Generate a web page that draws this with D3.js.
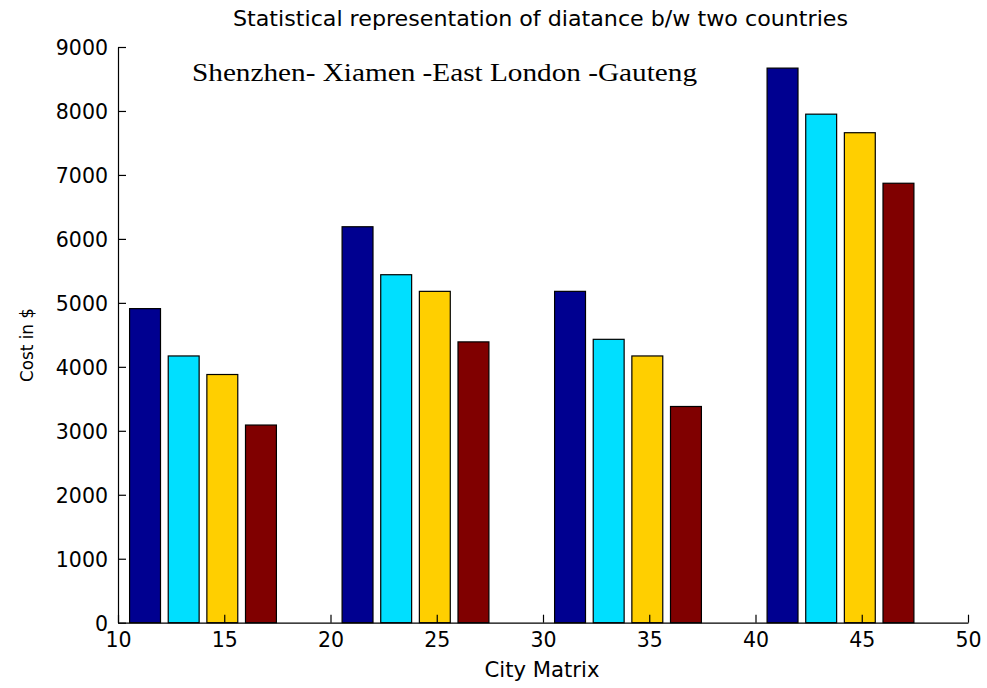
<!DOCTYPE html>
<html>
<head>
<meta charset="utf-8">
<script src="https://cdn.jsdelivr.net/npm/d3@7/dist/d3.min.js"></script>
<style>
  html, body { margin: 0; padding: 0; background: #fff; }
  svg { display: block; }
  text { fill: #000; }
</style>
</head>
<body>
<svg id="chart" width="987" height="688"></svg>
<script>
// ---- data ----
const groupCenters = [14, 24, 34, 44];
const seriesNames = ["Shenzhen", "Xiamen", "East London", "Gauteng"];
const shenzhen   = [4910, 6190, 5180, 8670];
const xiamen     = [4170, 5440, 4430, 7950];
const eastLondon = [3880, 5180, 4170, 7660];
const gauteng    = [3090, 4390, 3380, 6870];
const xTicks = [10, 15, 20, 25, 30, 35, 40, 45, 50];
const yTicks = [0, 1000, 2000, 3000, 4000, 5000, 6000, 7000, 8000, 9000];
const colors = ["#000090", "#00DFFF", "#FFCF00", "#800000"];

const series = [shenzhen, xiamen, eastLondon, gauteng];

const svg = d3.select("#chart");
const x = d3.scaleLinear().domain([10, 50]).range([118, 968]);
const y = d3.scaleLinear().domain([0, 9000]).range([622.7, 47]);

// MATLAB grouped bar geometry
const groupSpacing = 10;
const nS = series.length;
const groupWidth = Math.min(0.8, nS / (nS + 1.5)) * groupSpacing;
const step = groupWidth / nS;
const barW = 0.8 * step;

series.forEach((vals, si) => {
  const off = (si - (nS - 1) / 2) * step;
  svg.append("g").selectAll("rect").data(vals).join("rect")
    .attr("x", (d, i) => x(groupCenters[i] + off - barW / 2))
    .attr("width", (d, i) => x(groupCenters[i] + off + barW / 2) - x(groupCenters[i] + off - barW / 2))
    .attr("y", d => y(d))
    .attr("height", d => y(0) - y(d))
    .attr("fill", colors[si])
    .attr("stroke", "#000")
    .attr("stroke-width", 1.2);
});

const fontAxis = "'DejaVu Sans', sans-serif";

// axes
const xAxis = d3.axisBottom(x).tickValues(xTicks).tickFormat(d3.format("d"))
  .tickSizeInner(-8).tickSizeOuter(0).tickPadding(10);
const gx = svg.append("g").attr("transform", `translate(0,${y(0)})`).call(xAxis);
const yAxis = d3.axisLeft(y).tickValues(yTicks).tickFormat(d3.format("d"))
  .tickSizeInner(-8).tickSizeOuter(0).tickPadding(10);
const gy = svg.append("g").attr("transform", `translate(${x(10)},0)`).call(yAxis);
[gx, gy].forEach(g => {
  g.selectAll("path, line").attr("stroke", "#000").attr("stroke-width", 1.2);
  g.selectAll("text").attr("font-family", fontAxis).attr("font-size", 20.5).attr("fill", "#000");
});
gy.selectAll("text").attr("dy", "0.36em");

// title
svg.append("text")
  .attr("x", 540.5).attr("y", 26)
  .attr("text-anchor", "middle")
  .attr("font-family", fontAxis).attr("font-size", 20.5)
  .attr("textLength", 615).attr("lengthAdjust", "spacingAndGlyphs")
  .text("Statistical representation of diatance b/w two countries");

// annotation
svg.append("text")
  .attr("x", 192).attr("y", 81)
  .attr("font-family", "'Liberation Serif', 'Times New Roman', serif").attr("font-size", 25)
  .attr("textLength", 505).attr("lengthAdjust", "spacingAndGlyphs")
  .text("Shenzhen- Xiamen -East London -Gauteng");

// axis labels
svg.append("text")
  .attr("x", 542).attr("y", 677)
  .attr("text-anchor", "middle")
  .attr("font-family", fontAxis).attr("font-size", 21)
  .attr("textLength", 115).attr("lengthAdjust", "spacingAndGlyphs")
  .text("City Matrix");

svg.append("text")
  .attr("transform", "translate(33,345) rotate(-90)")
  .attr("text-anchor", "middle")
  .attr("font-family", fontAxis).attr("font-size", 17)
  .attr("textLength", 74).attr("lengthAdjust", "spacingAndGlyphs")
  .text("Cost in $");
</script>
</body>
</html>
